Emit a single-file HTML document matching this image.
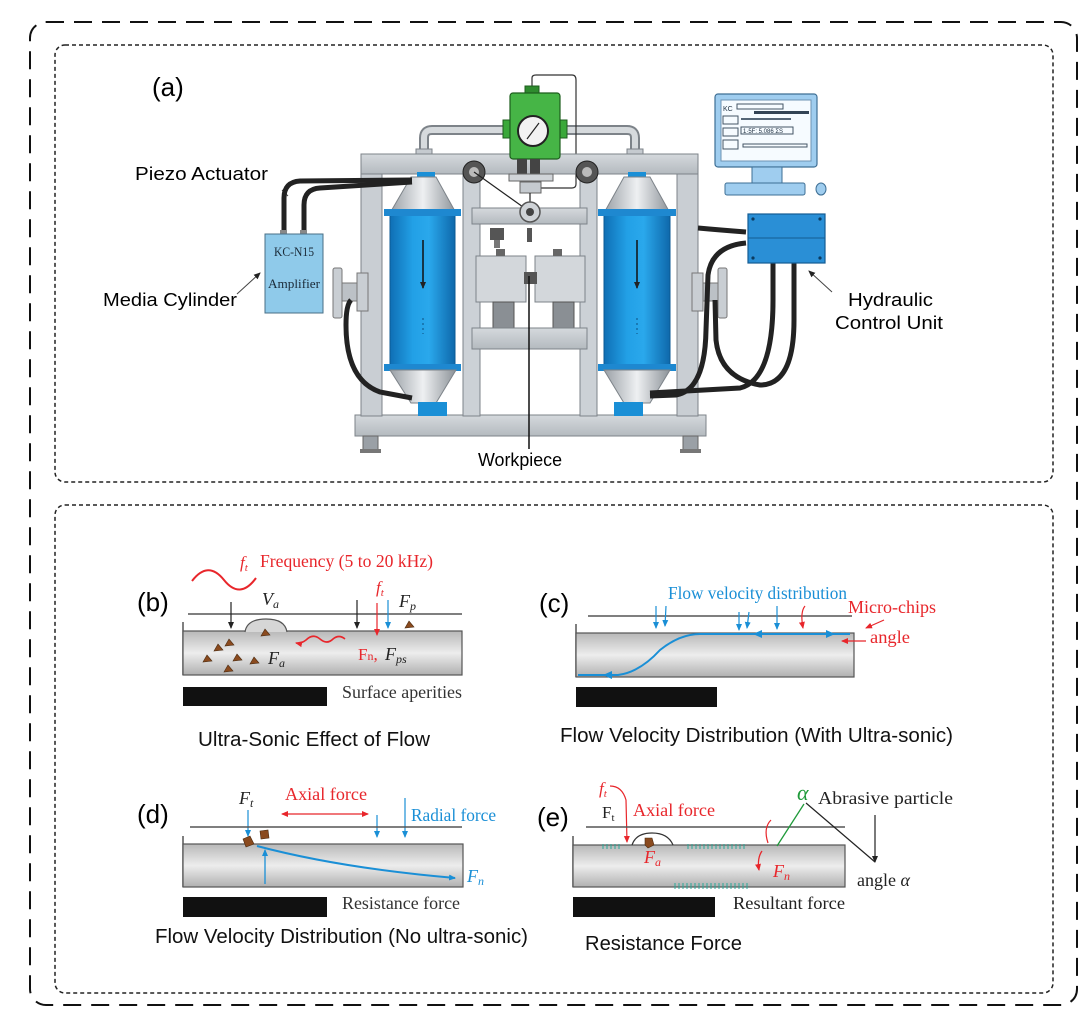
<!DOCTYPE html>
<html><head><meta charset="utf-8"><style>
html,body{margin:0;padding:0;background:#fff;}
svg{display:block;}
.s{font-family:"Liberation Sans",sans-serif;}
.r{font-family:"Liberation Serif",serif;}
</style></head><body>
<svg width="1087" height="1033" viewBox="0 0 1087 1033" xmlns="http://www.w3.org/2000/svg">
<defs>
<linearGradient id="cyl" x1="0" x2="1" y1="0" y2="0">
<stop offset="0" stop-color="#0f6fb5"/><stop offset="0.35" stop-color="#22a0e6"/><stop offset="0.6" stop-color="#2aa8ec"/><stop offset="1" stop-color="#0e68ab"/></linearGradient>
<linearGradient id="cone" x1="0" x2="1" y1="0" y2="0">
<stop offset="0" stop-color="#9aa0a6"/><stop offset="0.5" stop-color="#eef0f2"/><stop offset="1" stop-color="#8c9298"/></linearGradient>
<linearGradient id="tube" x1="0" x2="0" y1="0" y2="1">
<stop offset="0" stop-color="#b8b8b8"/><stop offset="0.5" stop-color="#ededed"/><stop offset="1" stop-color="#b0b0b0"/></linearGradient>
<linearGradient id="bar" x1="0" x2="0" y1="0" y2="1">
<stop offset="0" stop-color="#d5d9dd"/><stop offset="1" stop-color="#b4babf"/></linearGradient>
<marker id="ak" markerWidth="8" markerHeight="8" refX="6" refY="4" orient="auto" markerUnits="userSpaceOnUse"><path d="M0,1 L7,4 L0,7z" fill="#222"/></marker>
<marker id="ar" markerWidth="8" markerHeight="8" refX="6" refY="4" orient="auto" markerUnits="userSpaceOnUse"><path d="M0,1 L7,4 L0,7z" fill="#e8262b"/></marker>
<marker id="ab" markerWidth="8" markerHeight="8" refX="6" refY="4" orient="auto" markerUnits="userSpaceOnUse"><path d="M0,1 L7,4 L0,7z" fill="#1a8fd6"/></marker>
<marker id="arS" markerWidth="8" markerHeight="8" refX="1" refY="4" orient="auto" markerUnits="userSpaceOnUse"><path d="M7,1 L0,4 L7,7z" fill="#e8262b"/></marker>
</defs>

<rect x="30" y="22" width="1047" height="983" rx="16" fill="none" stroke="#111" stroke-width="2" stroke-dasharray="18 10"/>
<rect x="55" y="45" width="998" height="437" rx="10" fill="none" stroke="#222" stroke-width="1.5" stroke-dasharray="4 3"/>
<rect x="55" y="505" width="998" height="488" rx="10" fill="none" stroke="#222" stroke-width="1.5" stroke-dasharray="4 3"/>

<!-- ===== PANEL A ===== -->
<text x="152" y="96" class="s" font-size="26">(a)</text>
<text x="135" y="180" class="s" font-size="18" textLength="133" lengthAdjust="spacingAndGlyphs">Piezo Actuator</text>
<text x="103" y="306" class="s" font-size="18" textLength="134" lengthAdjust="spacingAndGlyphs">Media Cylinder</text>
<text x="848" y="306" class="s" font-size="18" textLength="85" lengthAdjust="spacingAndGlyphs">Hydraulic</text>
<text x="835" y="329" class="s" font-size="18" textLength="108" lengthAdjust="spacingAndGlyphs">Control Unit</text>
<text x="478" y="466" class="s" font-size="18" textLength="84" lengthAdjust="spacingAndGlyphs">Workpiece</text>
<line x1="237" y1="294" x2="260" y2="273" stroke="#444" stroke-width="1" marker-end="url(#ak)"/>
<line x1="832" y1="292" x2="809" y2="271" stroke="#444" stroke-width="1" marker-end="url(#ak)"/>
<line x1="282" y1="190" x2="288" y2="196" stroke="#444" stroke-width="1"/>

<path d="M424,155 V138 Q424,130 432,130 H505" fill="none" stroke="#7d8389" stroke-width="10"/>
<path d="M424,155 V138 Q424,130 432,130 H505" fill="none" stroke="#d6dadd" stroke-width="6"/>
<path d="M560,130 H627 Q635,130 635,138 V155" fill="none" stroke="#7d8389" stroke-width="10"/>
<path d="M560,130 H627 Q635,130 635,138 V155" fill="none" stroke="#d6dadd" stroke-width="6"/>
<rect x="416" y="149" width="16" height="6" fill="#c5cacf" stroke="#7d8389"/>
<rect x="627" y="149" width="16" height="6" fill="#c5cacf" stroke="#7d8389"/>

<path d="M532,88 V78 Q532,75 536,75 H572 Q576,75 576,80 V184 Q576,188 572,188 H540" fill="none" stroke="#333" stroke-width="1.2"/>

<rect x="355" y="415" width="351" height="21" fill="url(#bar)" stroke="#7d8389"/>
<rect x="363" y="436" width="15" height="14" fill="#9aa0a6" stroke="#666"/>
<rect x="360" y="449" width="21" height="4" fill="#777"/>
<rect x="683" y="436" width="15" height="14" fill="#9aa0a6" stroke="#666"/>
<rect x="680" y="449" width="21" height="4" fill="#777"/>
<rect x="361" y="154" width="21" height="262" fill="#c9ced3" stroke="#7d8389"/>
<rect x="677" y="154" width="21" height="262" fill="#c9ced3" stroke="#7d8389"/>
<rect x="361" y="154" width="337" height="20" fill="url(#bar)" stroke="#7d8389"/>
<rect x="463" y="174" width="17" height="242" fill="#ccd1d6" stroke="#7d8389"/>
<rect x="580" y="174" width="17" height="242" fill="#ccd1d6" stroke="#7d8389"/>

<rect x="525" y="86" width="14" height="8" fill="#2e8b2e" stroke="#1d5e1d"/>
<rect x="503" y="120" width="9" height="18" fill="#3aa83a" stroke="#1d5e1d"/>
<rect x="558" y="120" width="9" height="18" fill="#3aa83a" stroke="#1d5e1d"/>
<rect x="510" y="93" width="50" height="66" rx="3" fill="#46b546" stroke="#1d5e1d" stroke-width="1.2"/>
<circle cx="533" cy="131" r="15" fill="#f2f2f2" stroke="#222" stroke-width="2"/>
<line x1="527" y1="139" x2="539" y2="123" stroke="#222" stroke-width="1.2"/>
<rect x="517" y="159" width="10" height="15" fill="#444"/>
<rect x="530" y="159" width="10" height="15" fill="#444"/>
<rect x="509" y="174" width="44" height="7" fill="#d0d4d8" stroke="#666"/>
<rect x="520" y="182" width="21" height="11" fill="#c5cacf" stroke="#666"/>

<rect x="472" y="208" width="115" height="16" fill="url(#bar)" stroke="#7d8389"/>
<circle cx="474" cy="172" r="11" fill="#555" stroke="#222"/><circle cx="474" cy="172" r="5" fill="#bbb"/>
<circle cx="587" cy="172" r="11" fill="#555" stroke="#222"/><circle cx="587" cy="172" r="5" fill="#bbb"/>
<line x1="474" y1="172" x2="530" y2="212" stroke="#222" stroke-width="1.2"/>
<line x1="530" y1="193" x2="530" y2="212" stroke="#222" stroke-width="1.2"/>
<circle cx="530" cy="212" r="10" fill="#cfd3d7" stroke="#555" stroke-width="1.5"/>
<circle cx="530" cy="212" r="4" fill="#444"/>
<rect x="490" y="228" width="14" height="12" fill="#555"/>
<rect x="494" y="240" width="6" height="8" fill="#777"/>
<rect x="527" y="228" width="5" height="14" fill="#555"/>
<rect x="476" y="256" width="50" height="46" fill="#d3d7db" stroke="#7d8389"/>
<rect x="535" y="256" width="50" height="46" fill="#d3d7db" stroke="#7d8389"/>
<rect x="496" y="249" width="9" height="7" fill="#666"/>
<rect x="553" y="249" width="9" height="7" fill="#666"/>
<rect x="524" y="272" width="13" height="12" fill="#555"/>
<rect x="493" y="302" width="21" height="27" fill="#8a8f94" stroke="#555"/>
<rect x="553" y="302" width="21" height="27" fill="#8a8f94" stroke="#555"/>
<rect x="472" y="328" width="115" height="21" fill="url(#bar)" stroke="#7d8389"/>
<line x1="529" y1="276" x2="529" y2="449" stroke="#111" stroke-width="1.5"/>

<g>
<rect x="417" y="172" width="18" height="6" fill="#1a8fd6"/>
<path d="M411,177 H436 L456,213 H390 Z" fill="url(#cone)" stroke="#7d8389"/>
<rect x="390" y="213" width="65" height="154" fill="url(#cyl)" stroke="#0b5a94"/>
<rect x="384" y="209" width="77" height="7" fill="#1e88d0"/>
<rect x="384" y="364" width="77" height="7" fill="#1e88d0"/>
<path d="M390,370 H456 L436,403 H411 Z" fill="url(#cone)" stroke="#7d8389"/>
<rect x="418" y="402" width="29" height="14" fill="#1a8fd6"/>
<line x1="423" y1="240" x2="423" y2="288" stroke="#111" stroke-width="1.5" marker-end="url(#ak)"/>
<line x1="423" y1="318" x2="423" y2="334" stroke="#0b4f80" stroke-width="1" stroke-dasharray="2 3"/>
</g>
<g>
<rect x="628" y="172" width="18" height="6" fill="#1a8fd6"/>
<path d="M624,177 H650 L670,213 H604 Z" fill="url(#cone)" stroke="#7d8389"/>
<rect x="604" y="213" width="66" height="154" fill="url(#cyl)" stroke="#0b5a94"/>
<rect x="598" y="209" width="78" height="7" fill="#1e88d0"/>
<rect x="598" y="364" width="78" height="7" fill="#1e88d0"/>
<path d="M604,370 H670 L650,403 H624 Z" fill="url(#cone)" stroke="#7d8389"/>
<rect x="614" y="402" width="29" height="14" fill="#1a8fd6"/>
<line x1="637" y1="240" x2="637" y2="288" stroke="#111" stroke-width="1.5" marker-end="url(#ak)"/>
<line x1="637" y1="318" x2="637" y2="334" stroke="#0b4f80" stroke-width="1" stroke-dasharray="2 3"/>
</g>

<rect x="333" y="268" width="9" height="50" rx="2" fill="#c9ced3" stroke="#777"/>
<rect x="342" y="283" width="15" height="18" fill="#bcc1c6" stroke="#777"/>
<rect x="357" y="273" width="11" height="38" fill="#c9ced3" stroke="#777"/>
<rect x="718" y="268" width="9" height="50" rx="2" fill="#c9ced3" stroke="#777"/>
<rect x="703" y="283" width="15" height="18" fill="#bcc1c6" stroke="#777"/>
<rect x="692" y="273" width="11" height="38" fill="#c9ced3" stroke="#777"/>

<path d="M284,233 V198 Q284,182 300,181 L412,180" fill="none" stroke="#222" stroke-width="5"/>
<path d="M304,233 V205 Q304,189 320,188 L412,182" fill="none" stroke="#222" stroke-width="5"/>
<rect x="280" y="230" width="7" height="5" fill="#888"/>
<rect x="300" y="230" width="7" height="5" fill="#888"/>
<rect x="265" y="234" width="58" height="79" fill="#8fcaea" stroke="#4a6f86"/>
<text x="294" y="256" class="r" font-size="13" text-anchor="middle" fill="#1a2a38" textLength="40" lengthAdjust="spacingAndGlyphs">KC-N15</text>
<text x="294" y="288" class="r" font-size="13" text-anchor="middle" fill="#1a2a38" textLength="52" lengthAdjust="spacingAndGlyphs">Amplifier</text>
<path d="M351,300 Q346,305 346,325 Q346,380 380,392 L412,398" fill="none" stroke="#222" stroke-width="5"/>

<path d="M698,228 Q720,230 746,232" fill="none" stroke="#222" stroke-width="5"/>
<path d="M746,243 Q712,246 708,275 L706,330 Q705,390 676,395 L650,396" fill="none" stroke="#222" stroke-width="5"/>
<path d="M773,262 V300 Q773,380 740,388 L650,393" fill="none" stroke="#222" stroke-width="5"/>
<path d="M794,262 V320 Q794,385 760,385 Q720,378 716,340 L715,300" fill="none" stroke="#222" stroke-width="5"/>
<rect x="748" y="214" width="77" height="49" fill="#2a8fd6" stroke="#145c93" stroke-width="1.2"/>
<line x1="748" y1="238" x2="825" y2="238" stroke="#145c93"/>
<circle cx="753" cy="219" r="1.6" fill="#0b3b60"/><circle cx="820" cy="219" r="1.6" fill="#0b3b60"/>
<circle cx="753" cy="258" r="1.6" fill="#0b3b60"/><circle cx="820" cy="258" r="1.6" fill="#0b3b60"/>

<rect x="715" y="94" width="102" height="73" rx="3" fill="#9fcdef" stroke="#3e6f95" stroke-width="1.2"/>
<rect x="721" y="100" width="90" height="61" fill="#f6fbff" stroke="#6d93b3"/>
<text x="723" y="111" class="s" font-size="7" fill="#234">KC</text>
<rect x="737" y="104" width="46" height="5" fill="none" stroke="#456"/>
<rect x="754" y="111" width="55" height="3" fill="#345"/>
<rect x="723" y="116" width="15" height="8" fill="none" stroke="#456"/>
<rect x="741" y="118" width="50" height="2" fill="#567"/>
<rect x="723" y="128" width="15" height="8" fill="none" stroke="#456"/>
<rect x="741" y="127" width="52" height="7" fill="none" stroke="#456"/>
<text x="743" y="133" class="s" font-size="6" fill="#234">1·5F: 5.086 ƩS</text>
<rect x="723" y="140" width="15" height="9" fill="none" stroke="#456"/>
<rect x="743" y="144" width="64" height="3" fill="none" stroke="#456"/>
<rect x="752" y="167" width="30" height="17" fill="#9fcdef" stroke="#3e6f95"/>
<rect x="725" y="183" width="80" height="12" rx="2" fill="#9fcdef" stroke="#3e6f95"/>
<ellipse cx="821" cy="189" rx="5" ry="6" fill="#9fcdef" stroke="#3e6f95"/>

<!-- ===== PANEL B ===== -->
<text x="137" y="611" class="s" font-size="26">(b)</text>
<path d="M192,581 Q208,560 224,580 Q240,600 256,578" fill="none" stroke="#e8262b" stroke-width="2"/>
<text x="240" y="568" class="r" font-size="17" font-style="italic" fill="#e8262b">f<tspan font-size="11" dy="3">t</tspan></text>
<text x="260" y="567" class="r" font-size="18" fill="#e8262b" textLength="173" lengthAdjust="spacingAndGlyphs">Frequency (5 to 20 kHz)</text>
<line x1="188" y1="614" x2="462" y2="614" stroke="#555" stroke-width="1.5"/>
<line x1="183" y1="622" x2="183" y2="675" stroke="#555" stroke-width="1.5"/>
<rect x="183" y="631" width="279" height="44" fill="url(#tube)" stroke="#555" stroke-width="1.2"/>
<path d="M245,632 Q247,619 266,619 Q285,619 287,632" fill="#d6d6d6" stroke="#555" stroke-width="1.2"/>
<rect x="183" y="687" width="144" height="19" fill="#111"/>
<text x="342" y="698" class="r" font-size="18" fill="#333" textLength="120" lengthAdjust="spacingAndGlyphs">Surface aperities</text>
<text x="262" y="605" class="r" font-size="18" font-style="italic" fill="#222">V<tspan font-size="12" dy="3">a</tspan></text>
<line x1="231" y1="602" x2="231" y2="628" stroke="#222" stroke-width="1.2" marker-end="url(#ak)"/>
<line x1="357" y1="600" x2="357" y2="628" stroke="#222" stroke-width="1.2" marker-end="url(#ak)"/>
<line x1="377" y1="603" x2="377" y2="635" stroke="#e8262b" stroke-width="1.2" marker-end="url(#ar)"/>
<text x="376" y="593" class="r" font-size="17" font-style="italic" fill="#e8262b">f<tspan font-size="11" dy="3">t</tspan></text>
<line x1="388" y1="600" x2="388" y2="628" stroke="#1a8fd6" stroke-width="1.2" marker-end="url(#ab)"/>
<text x="399" y="607" class="r" font-size="18" font-style="italic" fill="#222">F<tspan font-size="12" dy="3">p</tspan></text>
<g fill="#8a4a1e" stroke="#4a2a10" stroke-width="0.6">
<path d="M405,628 l4,-7 l5,6 z"/><path d="M261,636 l4,-7 l5,6 z"/>
<path d="M214,651 l4,-7 l5,6 z"/><path d="M225,646 l4,-7 l5,6 z"/>
<path d="M203,662 l4,-7 l5,6 z"/><path d="M233,661 l4,-7 l5,6 z"/>
<path d="M250,664 l4,-7 l5,6 z"/><path d="M224,672 l4,-7 l5,6 z"/>
</g>
<text x="268" y="664" class="r" font-size="18" font-style="italic" fill="#222">F<tspan font-size="12" dy="3">a</tspan></text>
<path d="M345,639 Q339,634 333,639 Q327,645 320,639 Q313,633 306,640 Q301,644 296,643" fill="none" stroke="#e8262b" stroke-width="1.6" marker-end="url(#ar)"/>
<text x="358" y="660" class="r" font-size="17" fill="#e8262b">F<tspan font-size="12">n</tspan>,</text>
<text x="385" y="660" class="r" font-size="18" font-style="italic" fill="#222">F<tspan font-size="12" dy="3">ps</tspan></text>
<text x="198" y="746" class="s" font-size="20" fill="#111" textLength="232" lengthAdjust="spacingAndGlyphs">Ultra-Sonic Effect of Flow</text>

<!-- ===== PANEL C ===== -->
<text x="539" y="612" class="s" font-size="26">(c)</text>
<text x="668" y="599" class="r" font-size="18" fill="#1a8fd6" textLength="179" lengthAdjust="spacingAndGlyphs">Flow velocity distribution</text>
<text x="848" y="613" class="r" font-size="18" fill="#e8262b" textLength="88" lengthAdjust="spacingAndGlyphs">Micro-chips</text>
<text x="870" y="643" class="r" font-size="18" fill="#e8262b" textLength="40" lengthAdjust="spacingAndGlyphs">angle</text>
<line x1="588" y1="616" x2="852" y2="616" stroke="#555" stroke-width="1.5"/>
<line x1="576" y1="624" x2="576" y2="677" stroke="#555" stroke-width="1.5"/>
<rect x="576" y="633" width="278" height="44" fill="url(#tube)" stroke="#555" stroke-width="1.2"/>
<rect x="576" y="687" width="141" height="20" fill="#111"/>
<g stroke="#1a8fd6" stroke-width="1.2">
<line x1="656" y1="606" x2="656" y2="628" marker-end="url(#ab)"/>
<line x1="666" y1="606" x2="665" y2="626" marker-end="url(#ab)"/>
<line x1="739" y1="612" x2="739" y2="630" marker-end="url(#ab)"/>
<line x1="749" y1="612" x2="747" y2="628" marker-end="url(#ab)"/>
<line x1="777" y1="606" x2="777" y2="629" marker-end="url(#ab)"/>
</g>
<path d="M805,606 Q800,612 803,628" fill="none" stroke="#e8262b" stroke-width="1.2" marker-end="url(#ar)"/>
<line x1="884" y1="620" x2="866" y2="628" stroke="#e8262b" stroke-width="1.2" marker-end="url(#ar)"/>
<line x1="866" y1="641" x2="842" y2="641" stroke="#e8262b" stroke-width="1.2" marker-end="url(#ar)"/>
<path d="M578,675 L618,675 Q640,672 660,650 Q680,634 700,634 L850,634" fill="none" stroke="#1a8fd6" stroke-width="2"/>
<path d="M612,671 L603,675 L612,679z" fill="#1a8fd6"/>
<path d="M762,630 L753,634 L762,638z" fill="#1a8fd6"/>
<path d="M826,630 L835,634 L826,638z" fill="#1a8fd6"/>
<text x="560" y="742" class="s" font-size="20" fill="#111" textLength="393" lengthAdjust="spacingAndGlyphs">Flow Velocity Distribution (With Ultra-sonic)</text>

<!-- ===== PANEL D ===== -->
<text x="137" y="823" class="s" font-size="26">(d)</text>
<text x="239" y="804" class="r" font-size="18" font-style="italic" fill="#222">F<tspan font-size="12" dy="3">t</tspan></text>
<line x1="248" y1="810" x2="248" y2="836" stroke="#1a8fd6" stroke-width="1.2" marker-end="url(#ab)"/>
<text x="285" y="800" class="r" font-size="18" fill="#e8262b" textLength="82" lengthAdjust="spacingAndGlyphs">Axial force</text>
<line x1="282" y1="814" x2="368" y2="814" stroke="#e8262b" stroke-width="1.3" marker-start="url(#arS)" marker-end="url(#ar)"/>
<text x="411" y="821" class="r" font-size="18" fill="#1a8fd6" textLength="85" lengthAdjust="spacingAndGlyphs">Radial force</text>
<line x1="377" y1="815" x2="377" y2="837" stroke="#1a8fd6" stroke-width="1.2" marker-end="url(#ab)"/>
<line x1="405" y1="798" x2="405" y2="837" stroke="#1a8fd6" stroke-width="1.2" marker-end="url(#ab)"/>
<line x1="190" y1="827" x2="462" y2="827" stroke="#555" stroke-width="1.5"/>
<line x1="183" y1="836" x2="183" y2="887" stroke="#555" stroke-width="1.5"/>
<rect x="183" y="844" width="280" height="43" fill="url(#tube)" stroke="#555" stroke-width="1.2"/>
<rect x="183" y="897" width="144" height="20" fill="#111"/>
<path d="M243,839 l7,-3 l4,8 l-8,3 z" fill="#8a4a1e" stroke="#4a2a10" stroke-width="0.6"/>
<path d="M260,831 l8,-1 l1,8 l-8,1 z" fill="#8a4a1e" stroke="#4a2a10" stroke-width="0.6"/>
<path d="M257,846 Q340,868 455,878" fill="none" stroke="#1a8fd6" stroke-width="2" marker-end="url(#ab)"/>
<line x1="265" y1="884" x2="265" y2="850" stroke="#1a8fd6" stroke-width="1.3" marker-end="url(#ab)"/>
<text x="467" y="882" class="r" font-size="18" font-style="italic" fill="#1a8fd6">F<tspan font-size="12" dy="3">n</tspan></text>
<text x="342" y="909" class="r" font-size="18" fill="#333" textLength="118" lengthAdjust="spacingAndGlyphs">Resistance force</text>
<text x="155" y="943" class="s" font-size="20" fill="#111" textLength="373" lengthAdjust="spacingAndGlyphs">Flow Velocity Distribution (No ultra-sonic)</text>

<!-- ===== PANEL E ===== -->
<text x="537" y="826" class="s" font-size="26">(e)</text>
<text x="599" y="794" class="r" font-size="17" font-style="italic" fill="#e8262b">f<tspan font-size="11" dy="3">t</tspan></text>
<path d="M610,786 Q622,786 626,800 L627,842" fill="none" stroke="#e8262b" stroke-width="1.2" marker-end="url(#ar)"/>
<text x="602" y="818" class="r" font-size="17" fill="#222">F<tspan font-size="11" dy="3">t</tspan></text>
<text x="633" y="816" class="r" font-size="18" fill="#e8262b" textLength="82" lengthAdjust="spacingAndGlyphs">Axial force</text>
<text x="797" y="800" class="r" font-size="22" font-style="italic" fill="#1f9a3a">α</text>
<text x="818" y="804" class="r" font-size="18" fill="#222" textLength="135" lengthAdjust="spacingAndGlyphs">Abrasive particle</text>
<line x1="586" y1="827" x2="845" y2="827" stroke="#555" stroke-width="1.5"/>
<line x1="573" y1="836" x2="573" y2="887" stroke="#555" stroke-width="1.5"/>
<rect x="573" y="845" width="272" height="42" fill="url(#tube)" stroke="#555" stroke-width="1.2"/>
<rect x="573" y="897" width="142" height="20" fill="#111"/>
<path d="M632,845 Q636,833 652,833 Q668,833 673,845" fill="none" stroke="#333" stroke-width="1.2"/>
<path d="M645,838 l7,0 l2,7 l-6,3 l-3,-3 z" fill="#8a4a1e" stroke="#4a2a10" stroke-width="0.6"/>
<g stroke="#2aa898" stroke-width="1">
<path d="M603,844 v5 M607,844 v5 M611,844 v5 M615,844 v5 M619,844 v5"/>
<path d="M688,844 v5 M692,844 v5 M696,844 v5 M700,844 v5 M704,844 v5 M708,844 v5 M712,844 v5 M716,844 v5 M720,844 v5 M724,844 v5 M728,844 v5 M732,844 v5 M736,844 v5 M740,844 v5 M744,844 v5"/>
<path d="M675,883 v6 M679,883 v6 M683,883 v6 M687,883 v6 M691,883 v6 M695,883 v6 M699,883 v6 M703,883 v6 M707,883 v6 M711,883 v6 M715,883 v6 M719,883 v6 M723,883 v6 M727,883 v6 M731,883 v6 M735,883 v6 M739,883 v6 M743,883 v6 M747,883 v6"/>
</g>
<text x="644" y="863" class="r" font-size="18" font-style="italic" fill="#e8262b">F<tspan font-size="12" dy="3">a</tspan></text>
<path d="M762,851 Q757,858 759,870" fill="none" stroke="#e8262b" stroke-width="1.3" marker-end="url(#ar)"/>
<path d="M771,820 Q763,828 768,843" fill="none" stroke="#e8262b" stroke-width="1.2"/>
<text x="773" y="877" class="r" font-size="18" font-style="italic" fill="#e8262b">F<tspan font-size="12" dy="3">n</tspan></text>
<line x1="804" y1="804" x2="777" y2="846" stroke="#1f9a3a" stroke-width="1.3"/>
<polyline points="806,803 875,862" fill="none" stroke="#222" stroke-width="1.2"/>
<line x1="875" y1="815" x2="875" y2="862" stroke="#222" stroke-width="1.2" marker-end="url(#ak)"/>
<text x="857" y="886" class="r" font-size="18" fill="#222" textLength="53" lengthAdjust="spacingAndGlyphs">angle <tspan font-style="italic">α</tspan></text>
<text x="733" y="909" class="r" font-size="18" fill="#222" textLength="112" lengthAdjust="spacingAndGlyphs">Resultant force</text>
<text x="585" y="950" class="s" font-size="20" fill="#111" textLength="157" lengthAdjust="spacingAndGlyphs">Resistance Force</text>
</svg>
</body></html>
